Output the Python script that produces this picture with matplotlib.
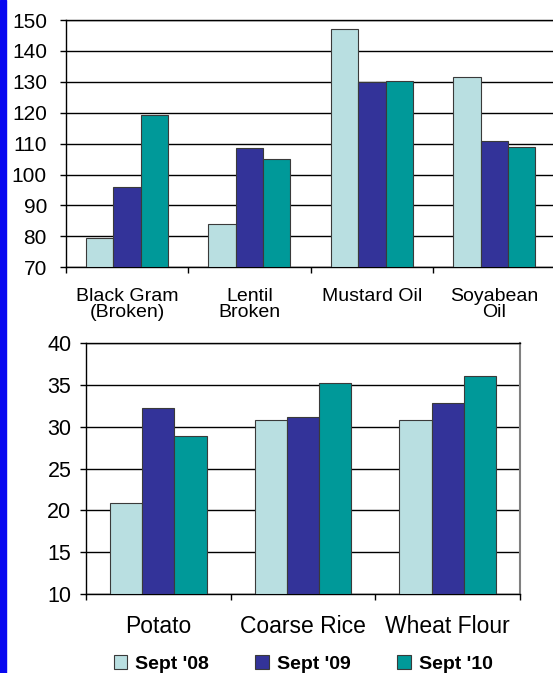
import matplotlib
matplotlib.use("Agg")
import matplotlib.pyplot as plt
from matplotlib.patches import Patch, Rectangle
import numpy as np

plt.rcParams['font.family'] = ['Liberation Sans', 'DejaVu Sans']

series = ["Sept '08", "Sept '09", "Sept '10"]
colors = ['#B9DFE1', '#333399', '#009999']

top_cats = ['Black Gram\n(Broken)', 'Lentil\nBroken', 'Mustard Oil', 'Soyabean\nOil']
top_08 = [79.5, 84.0, 147.1, 131.5]
top_09 = [96.1, 108.5, 129.9, 110.9]
top_10 = [119.2, 105.0, 130.3, 108.9]

bot_cats = ['Potato', 'Coarse Rice', 'Wheat Flour']
bot_08 = [20.9, 30.8, 30.8]
bot_09 = [32.2, 31.2, 32.8]
bot_10 = [28.9, 35.3, 36.1]

W, H = 553, 673
fig = plt.figure(figsize=(W / 100, H / 100), dpi=100)
fig.patches.append(Rectangle((0, 0), 6 / W, 1, transform=fig.transFigure,
                             color='#0808F0', zorder=10))


def draw(ax, cats, vals, ymin, ymax, step, label_size, ypad, ysize):
    x = np.arange(len(cats))
    bw = 0.223
    for i, v in enumerate(vals):
        ax.bar(x + (i - 1) * bw, np.array(v) - ymin, bw, bottom=ymin,
               color=colors[i], edgecolor='#3a3a3a', linewidth=0.8, zorder=3)
    ax.set_ylim(ymin, ymax)
    ax.set_xlim(-0.5, len(cats) - 0.5)
    ax.set_yticks(np.arange(ymin, ymax + 1, step))
    ax.yaxis.grid(True, color='black', linewidth=1.0, zorder=1)
    ax.set_xticks(x)
    ax.set_xticklabels(cats, fontsize=label_size, linespacing=0.95)
    ax.set_xticks(np.arange(-0.5, len(cats), 1), minor=True)
    ax.tick_params(axis='x', which='major', length=0, pad=15)
    ax.tick_params(axis='x', which='minor', length=4.5, width=1, direction='out')
    ax.tick_params(axis='y', length=4.5, width=1, labelsize=ysize, pad=ypad)
    for s in ['left', 'bottom', 'top']:
        ax.spines[s].set_color('black')
        ax.spines[s].set_linewidth(1.0)
    ax.spines['right'].set_color('#808080')
    ax.spines['right'].set_linewidth(1.5)


ax1 = fig.add_axes([65.7 / W, 1 - 267.3 / H, 490 / W, (267.3 - 20) / H])
draw(ax1, top_cats, [top_08, top_09, top_10], 70, 150, 10, 14, 9, 15)

ax2 = fig.add_axes([86 / W, 1 - 594 / H, 434 / W, (594 - 343.3) / H])
draw(ax2, bot_cats, [bot_08, bot_09, bot_10], 10, 40, 5, 16.5, 6, 15.5)

handles = [Patch(facecolor=c, edgecolor='#3a3a3a', linewidth=0.8) for c in colors]
fig.legend(handles, series, loc='center', bbox_to_anchor=(303 / W, 1 - 664 / H),
           ncol=3, frameon=False, prop={'weight': 'bold', 'size': 14},
           handlelength=0.7, handleheight=0.7, handletextpad=0.4,
           columnspacing=2.4, borderaxespad=0, borderpad=0)

fig.savefig('out.png', dpi=100)
